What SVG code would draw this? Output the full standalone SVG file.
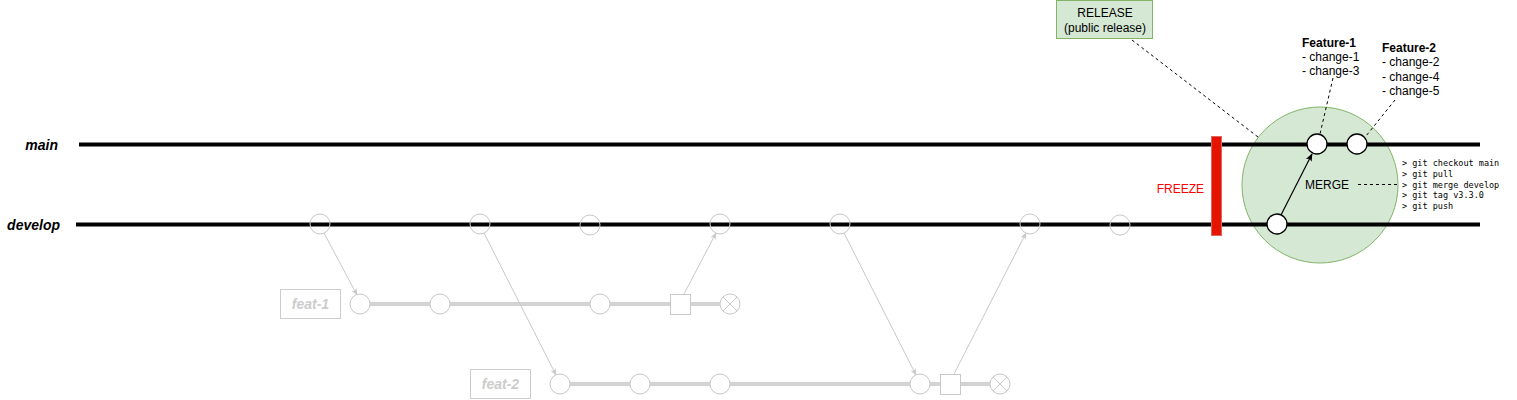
<svg xmlns="http://www.w3.org/2000/svg" width="1517" height="400" viewBox="0 0 1517 400">
<style>
text{font-family:"Liberation Sans",Arial,sans-serif;}
.lbl{font-size:14px;font-weight:bold;font-style:italic;fill:#000;}
.br{stroke:#000;stroke-width:4;}
.fl{stroke:#d3d3d3;stroke-width:4;}
.gc{fill:none;stroke:#c8c8c8;stroke-width:1;}
.fc{fill:#fff;stroke:#c8c8c8;stroke-width:1;}
.gcon{stroke:#c8c8c8;stroke-width:1;fill:none;marker-end:url(#ga);}
.flbl{font-size:14px;font-weight:bold;font-style:italic;fill:#cccccc;}
.dash{stroke:#000;stroke-width:1;stroke-dasharray:3 3;fill:none;}
.t12{font-size:12px;fill:#000;}
.mono{font-family:"DejaVu Sans Mono","Liberation Mono",monospace;font-size:8.5px;fill:#000;}
.mc{fill:#fff;stroke:#000;stroke-width:1.3;}
</style>
<defs>
<marker id="ga" viewBox="0 0 10 10" refX="9" refY="5" markerWidth="7" markerHeight="7" orient="auto" markerUnits="userSpaceOnUse"><path d="M0,1 L10,5 L0,9 L2.5,5 Z" fill="#c8c8c8"/></marker>
<marker id="ba" viewBox="0 0 10 10" refX="9" refY="5" markerWidth="8" markerHeight="8" orient="auto" markerUnits="userSpaceOnUse"><path d="M0,1 L10,5 L0,9 L2.5,5 Z" fill="#000"/></marker>
</defs>
<rect width="1517" height="400" fill="#fff"/>

<g id="merge-zone">
<circle cx="1320" cy="185" r="78" fill="#d5e8d4" stroke="#82b366" stroke-width="1"/>
</g>

<g id="branch-main">
<line x1="79" y1="144.5" x2="1480" y2="144.5" class="br"/>
<text x="58" y="150" class="lbl" text-anchor="end">main</text>
</g>
<g id="branch-develop">
<line x1="76" y1="224.5" x2="1480" y2="224.5" class="br"/>
<text x="60" y="230" class="lbl" text-anchor="end">develop</text>
</g>

<g id="branch-feat-1">
<line x1="360" y1="304" x2="730" y2="304" class="fl"/>
<rect x="280.5" y="289.5" width="60" height="29" fill="#fff" stroke="#cccccc"/>
<text x="310.5" y="309" class="flbl" text-anchor="middle">feat-1</text>
</g>
<g id="branch-feat-2">
<line x1="560" y1="384" x2="1000" y2="384" class="fl"/>
<rect x="470.5" y="369.5" width="60" height="29" fill="#fff" stroke="#cccccc"/>
<text x="500.5" y="389" class="flbl" text-anchor="middle">feat-2</text>
</g>

<g id="develop-commits">
<circle cx="320" cy="224" r="10" class="gc"/>
<circle cx="480" cy="224" r="10" class="gc"/>
<circle cx="590" cy="225" r="10" class="gc"/>
<circle cx="720" cy="224" r="10" class="gc"/>
<circle cx="840" cy="224" r="10" class="gc"/>
<circle cx="1030" cy="224" r="10" class="gc"/>
<circle cx="1120" cy="225" r="10" class="gc"/>
</g>

<g id="feat-1-commits">
<circle cx="360" cy="304" r="10" class="fc"/>
<circle cx="440" cy="304" r="10" class="fc"/>
<circle cx="600" cy="304" r="10" class="fc"/>
<rect x="670.5" y="294.5" width="20" height="20" class="fc"/>
<circle cx="730" cy="304" r="10" class="fc"/>
<path d="M723,297 L737,311 M737,297 L723,311" stroke="#c8c8c8" stroke-width="1"/>
</g>
<g id="feat-2-commits">
<circle cx="560" cy="384" r="10" class="fc"/>
<circle cx="640" cy="384" r="10" class="fc"/>
<circle cx="720" cy="384" r="10" class="fc"/>
<circle cx="920" cy="384" r="10" class="fc"/>
<rect x="940.5" y="374.5" width="20" height="20" class="fc"/>
<circle cx="1000" cy="384" r="10" class="fc"/>
<path d="M993,377 L1007,391 M1007,377 L993,391" stroke="#c8c8c8" stroke-width="1"/>
</g>

<g id="connectors">
<line x1="324" y1="233" x2="357" y2="295" class="gcon"/>
<line x1="484" y1="233" x2="556" y2="375" class="gcon"/>
<line x1="684" y1="294" x2="716" y2="233" class="gcon"/>
<line x1="844" y1="233" x2="916" y2="375" class="gcon"/>
<line x1="954" y1="374" x2="1026" y2="233" class="gcon"/>
<line x1="1281" y1="215" x2="1312" y2="154" stroke="#000" stroke-width="1.2" marker-end="url(#ba)"/>
<line x1="1132" y1="40" x2="1258" y2="137" class="dash"/>
<line x1="1333" y1="78" x2="1320" y2="134" class="dash"/>
<line x1="1395" y1="100" x2="1366" y2="136" class="dash"/>
<line x1="1358" y1="184.5" x2="1400" y2="184.5" class="dash"/>
</g>

<g id="freeze">
<rect x="1211.5" y="136.5" width="10" height="99" fill="#e51400" stroke="#e06666" stroke-width="1"/>
<text x="1204" y="193" font-size="12" fill="#ff0000" text-anchor="end">FREEZE</text>
</g>

<g id="merge-commits">
<circle cx="1317" cy="144" r="10" class="mc"/>
<circle cx="1357" cy="144" r="10" class="mc"/>
<circle cx="1277" cy="224" r="10" class="mc"/>
<text x="1327" y="189" class="t12" text-anchor="middle">MERGE</text>
</g>

<g id="release">
<rect x="1056.5" y="0.5" width="96" height="38" fill="#d5e8d4" stroke="#82b366"/>
<text x="1105" y="17" class="t12" text-anchor="middle">RELEASE</text>
<text x="1105" y="32" class="t12" text-anchor="middle">(public release)</text>
</g>

<g id="feature-1-note">
<text x="1302" y="47" class="t12" font-weight="bold">Feature-1</text>
<text x="1302" y="61" class="t12">- change-1</text>
<text x="1302" y="75" class="t12">- change-3</text>
</g>
<g id="feature-2-note">
<text x="1382" y="52" class="t12" font-weight="bold">Feature-2</text>
<text x="1382" y="66" class="t12">- change-2</text>
<text x="1382" y="81" class="t12">- change-4</text>
<text x="1382" y="95" class="t12">- change-5</text>
</g>

<g id="git-commands">
<text x="1402" y="166" class="mono">&gt; git checkout main</text>
<text x="1402" y="177" class="mono">&gt; git pull</text>
<text x="1402" y="188" class="mono">&gt; git merge develop</text>
<text x="1402" y="198" class="mono">&gt; git tag v3.3.0</text>
<text x="1402" y="209" class="mono">&gt; git push</text>
</g>
</svg>
